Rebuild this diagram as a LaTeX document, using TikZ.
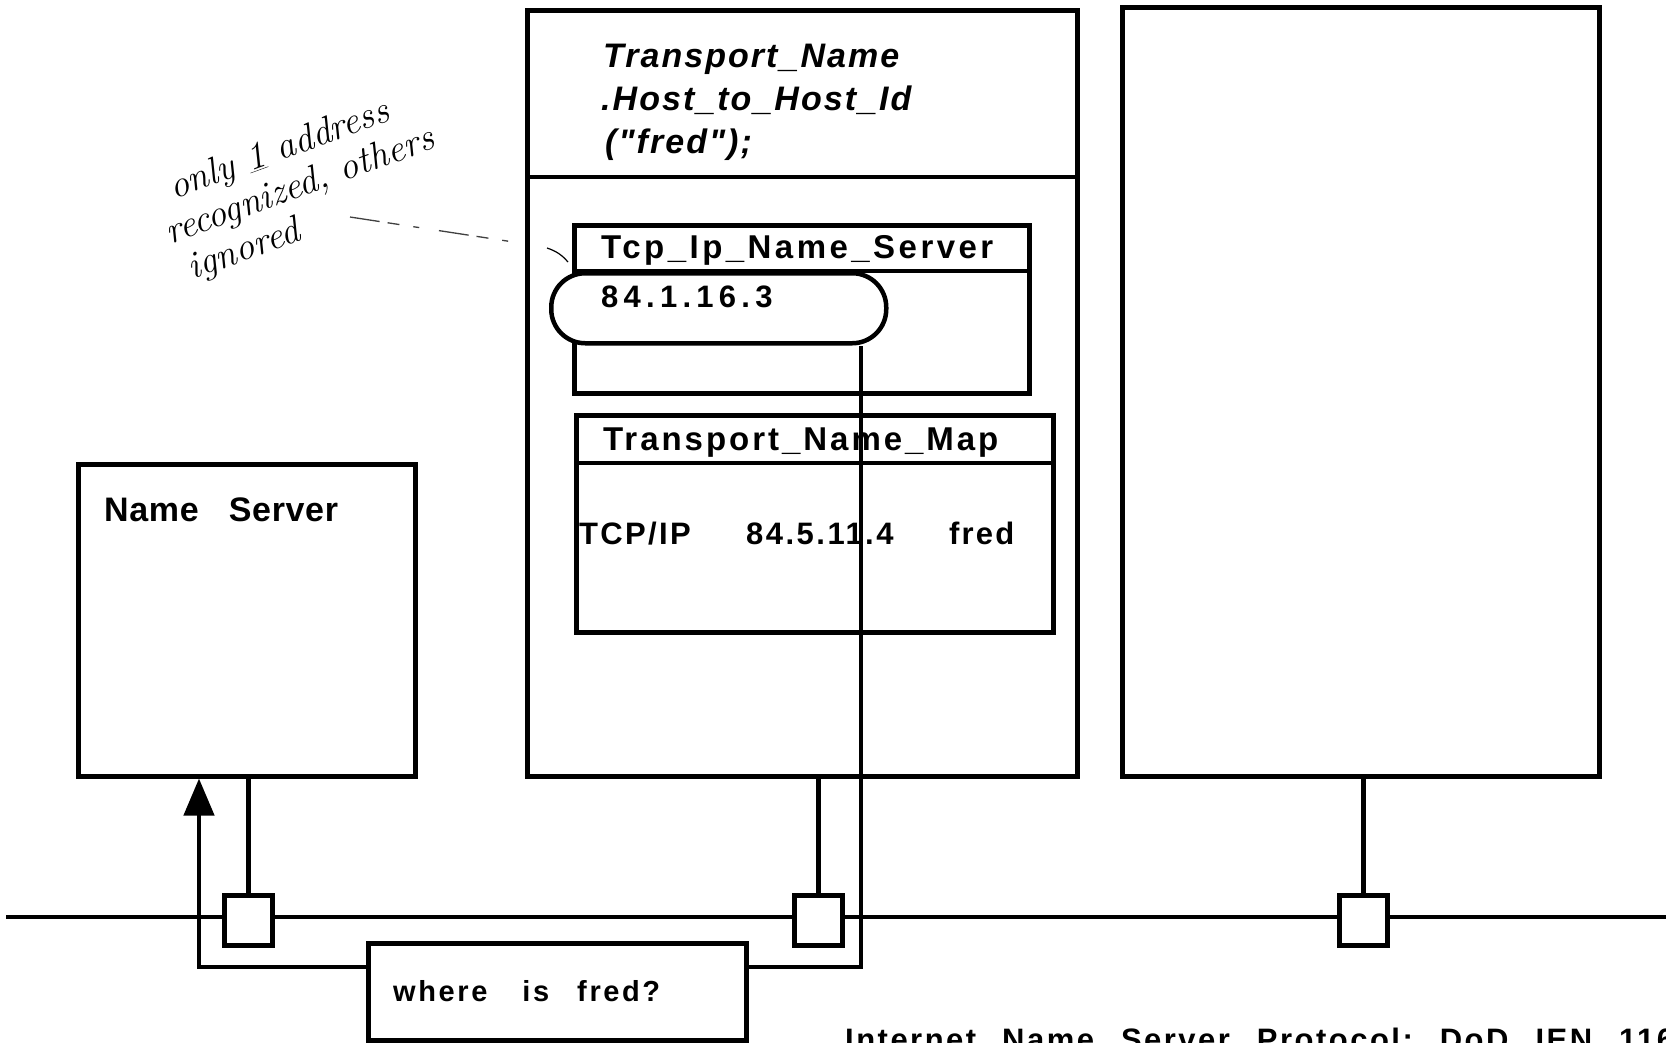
\documentclass[tikz,border=0pt]{standalone}
\usepackage{fontspec}
\newfontfamily\hv{Liberation Sans}
\usetikzlibrary{arrows.meta}
\newcommand{\hvt}[3]{{\hv\bfseries\fontsize{#1}{#1}\selectfont\addfontfeatures{LetterSpace=#2}#3}}
\tikzset{
  box/.style={draw, line width=4.5pt, inner sep=0pt, anchor=north west, fill=white},
  line/.style={line width=4.5pt},
  txt/.style={anchor=base west, inner sep=0pt},
  hand/.style={anchor=north west, inner sep=0pt, rotate=20, align=left,
    font=\fontsize{38}{41}\selectfont\itshape},
}
\begin{document}
\begin{tikzpicture}[x=1pt, y=-1pt]
\useasboundingbox (0,0) rectangle (1666,1042);
\clip (0,0) rectangle (1666,1042);
\fill[white] (0,0) rectangle (1666,1042);

% network line
\draw[line] (6,917) -- (1666,917);

% hosts
\node[box, minimum width=550pt, minimum height=766pt] (mid) at (525,8) {};
\draw[line] (mid.west |- 0,177) -- (mid.east |- 0,177);
\node[box, minimum width=477pt, minimum height=769pt] (rb) at (1120,5) {};
\node[box, minimum width=337pt, minimum height=312pt] (ns) at (76,462) {};

% inner boxes
\node[box, minimum width=455pt, minimum height=168pt] (tcp) at (572,223) {};
\draw[line] (tcp.west |- 0,271) -- (tcp.east |- 0,271);
\node[box, minimum width=477pt, minimum height=217pt] (map) at (574,413) {};
\draw[line] (map.west |- 0,463) -- (map.east |- 0,463);
\node[box, rounded corners=34pt, minimum width=335pt, minimum height=70pt] (pill) at (549,271) {};

% transceivers
\node[box, minimum width=48pt, minimum height=50pt] (sq1) at (222,893) {};
\node[box, minimum width=48pt, minimum height=50pt] (sq2) at (792,893) {};
\node[box, minimum width=48pt, minimum height=50pt] (sq3) at (1337,893) {};
\draw[line] (ns.south -| sq1.north) -- (sq1.north);
\draw[line] (mid.south -| sq2.north) -- (sq2.north);
\draw[line] (rb.south -| sq3.north) -- (sq3.north);

% query box
\node[box, minimum width=378pt, minimum height=97pt] (q) at (366,941) {};

% texts
\node[txt] (t1) at (603,67) {\hvt{34}{6}{\itshape Transport\_Name}};
\node[txt] (t2) at (601,110) {\hvt{34}{6}{\itshape .Host\_to\_Host\_Id}};
\node[txt] (t3) at (605,153) {\hvt{34}{6}{\itshape ("fred");}};
\node[txt] (tcpt) at (601,258) {\hvt{33}{10.5}{Tcp\_Ip\_Name\_Server}};
\node[txt] (ip) at (601,307) {\hvt{31}{17}{84.1.16.3}};
\node[txt] (mapt) at (603,450) {\hvt{33}{9}{Transport\_Name\_Map}};
\node[txt] (c1) at (579,544) {\hvt{31}{7.5}{TCP/IP}};
\node[txt] (c2) at (746,544) {\hvt{31}{8}{84.5.11.4}};
\node[txt] (c3) at (949,544) {\hvt{31}{7}{fred}};
\node[txt] (nst) at (104,521) {\hvt{34}{2}{Name\hspace{30pt}Server}};
\node[txt] (qt) at (393,1001) {\hvt{29}{9}{where\hspace{35pt}is\hspace{28pt}fred?}};
\node[txt] (foot) at (845,1050) {\hvt{31}{8}{Internet\hspace{26pt}Name\hspace{27pt}Server\hspace{27pt}Protocol:\hspace{27pt}DoD\hspace{27pt}IEN\hspace{27pt}116}};

% message path
\draw[line, -{Triangle[length=37pt,width=30pt]}] (q.west |- 0,967) -- (199,967) -- (ns.south -| 199,0);
\draw[line] (q.east |- 0,967) -- (861,967) -- (pill.south -| 861,0);

% handwritten annotation
\node[hand] (note) at (147,181) {\hspace*{19pt}only \underline{1} address\\recognized, others\\\hspace*{9pt}ignored};
\coordinate (hs) at (350,217);
\coordinate (he) at (520,243);
\draw[line width=1.3pt, black!75, dash pattern=on 30pt off 8pt on 12pt off 14pt on 6pt off 20pt] (hs) -- (he);
\coordinate (cs) at (547,248);
\coordinate (ce) at (568,262);
\draw[line width=1.2pt] (cs) to[bend left=15] (ce);
\end{tikzpicture}
\end{document}
